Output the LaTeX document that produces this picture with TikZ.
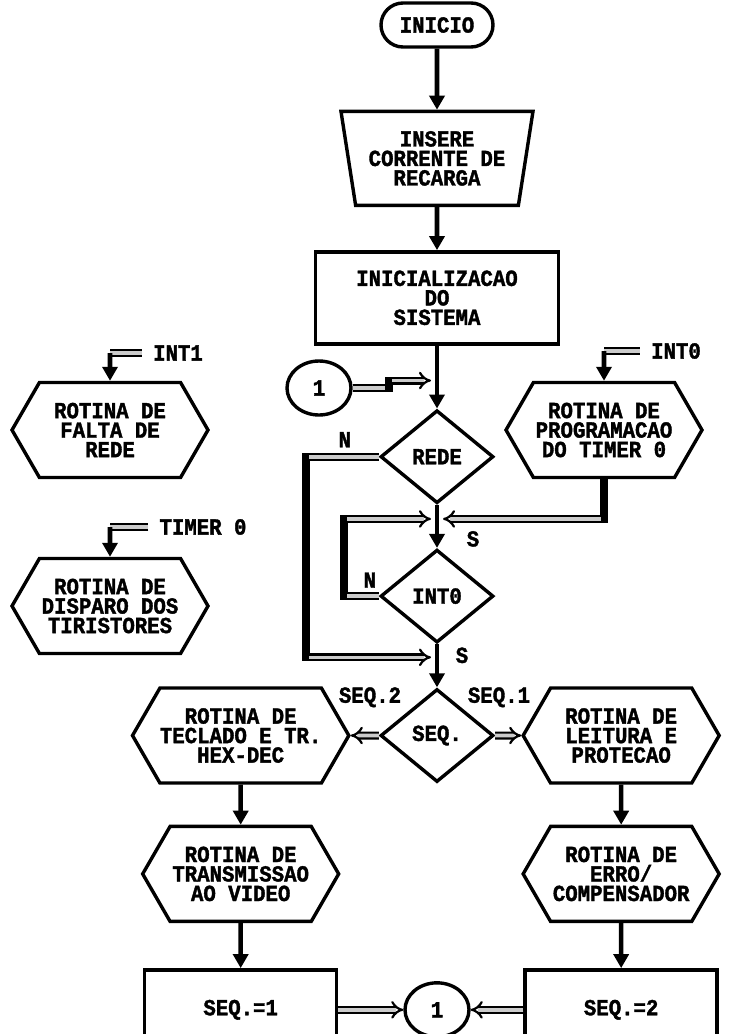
\documentclass[tikz,border=0pt]{standalone}
\usepackage{fontspec}
\newfontfamily\dotfont[FakeStretch=0.9,FakeBold=1.6]{Liberation Mono}
\usepackage{tikz}
\usetikzlibrary{shapes.geometric,shapes.symbols,arrows.meta,positioning,calc}

\begin{document}
\begin{tikzpicture}[
  x=1pt, y=-1pt,
  font=\dotfont\bfseries\fontsize{23}{19.5}\selectfont, node distance=43pt,
  shp/.style={draw,line width=3.4pt,align=center,inner sep=2pt},
  term/.style={shp,rounded corners=22pt,minimum width=112pt,minimum height=44pt},
  load/.style={shp,trapezium,shape border rotate=180,trapezium left angle=75,trapezium right angle=75,
    trapezium stretches body,minimum width=192pt,minimum height=94pt,inner sep=0pt},
  proc/.style={shp,minimum width=243pt,minimum height=92pt},
  seqbox/.style={shp,minimum width=192pt,minimum height=80pt},
  dec/.style={shp,diamond,minimum width=113pt,minimum height=93pt,inner sep=0pt},
  sub/.style={shp,signal,signal to=east and west,signal pointer angle=120,
    minimum width=196pt,minimum height=95pt,inner sep=0pt},
  conn/.style={shp,ellipse,minimum width=64pt,minimum height=54pt,inner sep=0pt},
  lbl/.style={inner sep=1pt},
  flow/.style={line width=4.6pt,-{Triangle[length=14pt,width=15pt]}},
  bar/.style={double=gray!40,double distance=3.6pt,line width=2.2pt},
  barto/.style={bar,-{Implies[scale=1.25]}},
  leg/.style={line width=6.5pt,line cap=rect}]

\useasboundingbox (0,0) rectangle (741,1034);

% main column
\node[term] (start) at (437,25) {INICIO};
\node[load,below=61pt of start] (trap) {INSERE\\CORRENTE DE\\RECARGA};
\node[proc,below=of trap] (init) {INICIALIZACAO\\DO\\SISTEMA};
\node[dec,below=63pt of init] (rede) {REDE};
\node[dec,below=of rede] (irq) {INT0};
\node[dec,below=of irq] (seq) {SEQ.};

\node[sub,right=26pt of seq] (leitura) {ROTINA DE\\LEITURA E\\PROTECAO};
\node[sub,left=28pt of seq] (teclado) {ROTINA DE\\TECLADO E TR.\\HEX-DEC};
\node[sub,below=40pt of leitura] (erro) {ROTINA DE\\ERRO/\\COMPENSADOR};
\node[sub,below=40pt of teclado] (transm) {ROTINA DE\\TRANSMISSAO\\AO VIDEO};
\node[seqbox,below=45pt of transm] (box1) {SEQ.=1};
\node[seqbox,below=45pt of erro] (box2) {SEQ.=2};
\node[conn] (c2) at (box1 -| seq) {1};

% interrupt routines
\node[sub] (prog) at (604,430) {ROTINA DE\\PROGRAMACAO\\DO TIMER 0};
\node[sub] (falta) at (110,430) {ROTINA DE\\FALTA DE\\REDE};
\node[sub] (disparo) at (110,606) {ROTINA DE\\DISPARO DOS\\TIRISTORES};
\node[lbl] (int1) at (178,353) {INT1};
\node[lbl] (tim0) at (203,527) {TIMER 0};
\node[lbl] (int0) at (676,351) {INT0};
\node[conn] (c1) at (319,388) {1};

% labels
\node[lbl] (n1) at ($(rede.west)+(-34,-17)$) {N};
\node[lbl] (n2) at ($(irq.west)+(-9,-16)$) {N};
\node[lbl] (s1) at ($(irq.north)+(36,-9)$) {S};
\node[lbl] (s2) at ($(irq.south)+(25,11)$) {S};
\node[lbl] (sq2) at ($(seq.north)+(-67,10)$) {SEQ.2};
\node[lbl] (sq1) at ($(seq.north)+(62,10)$) {SEQ.1};

% junctions on the main line
\coordinate (j0) at ($(rede.north)+(0,-28)$);
\coordinate (j1) at ($(rede.south)+(0,14)$);
\coordinate (j2) at ($(irq.south)+(0,13)$);

\foreach \x/\y in {start/trap,trap/init,init/rede,rede/irq,irq/seq,teclado/transm,leitura/erro,transm/box1,erro/box2}
  \draw[flow] (\x) -- (\y);
\draw[barto] (seq) -- (leitura);
\draw[barto] (seq) -- (teclado);
\draw[barto] (box1) -- (c2);
\draw[barto] (box2) -- (c2);

% connector 1 back into the loop
\coordinate (k6) at ($(c1.east)+(36,0)$);
\coordinate (k7) at (k6 |- j0);
\draw[barto,shorten >=6pt] (c1) -- (k6) -- (k7) -- (j0);
\draw[leg] (k6) -- (k7);

% REDE = N
\coordinate (k1) at ($(rede.west)+(-73,0)$);
\coordinate (k2) at (k1 |- j2);
\draw[barto,shorten >=6pt] (rede.west) -- (k1) -- (k2) -- (j2);
\draw[leg] (k1) -- (k2);

% INT0 = N
\coordinate (k3) at ($(irq.west)+(-35,0)$);
\coordinate (k4) at (k3 |- j1);
\draw[barto,shorten >=6pt] (irq.west) -- (k3) -- (k4) -- (j1);
\draw[leg] (k3) -- (k4);

% timer 0 programming returns
\coordinate (k5) at (prog.south |- j1);
\draw[barto,shorten >=6pt] (prog.south) -- (k5) -- (j1);
\draw[leg] (prog.south) -- (k5);

% interrupt entries
\coordinate (e1) at (falta.north |- int1);
\coordinate (e2) at (disparo.north |- tim0);
\coordinate (e3) at (prog.north |- int0);
\draw[bar,shorten <=10pt] (int1) -- (e1);
\draw[bar,shorten <=10pt] (tim0) -- (e2);
\draw[bar,shorten <=10pt] (int0) -- (e3);
\draw[flow] (e1) -- (falta);
\draw[flow] (e2) -- (disparo);
\draw[flow] (e3) -- (prog);
\end{tikzpicture}
\end{document}
